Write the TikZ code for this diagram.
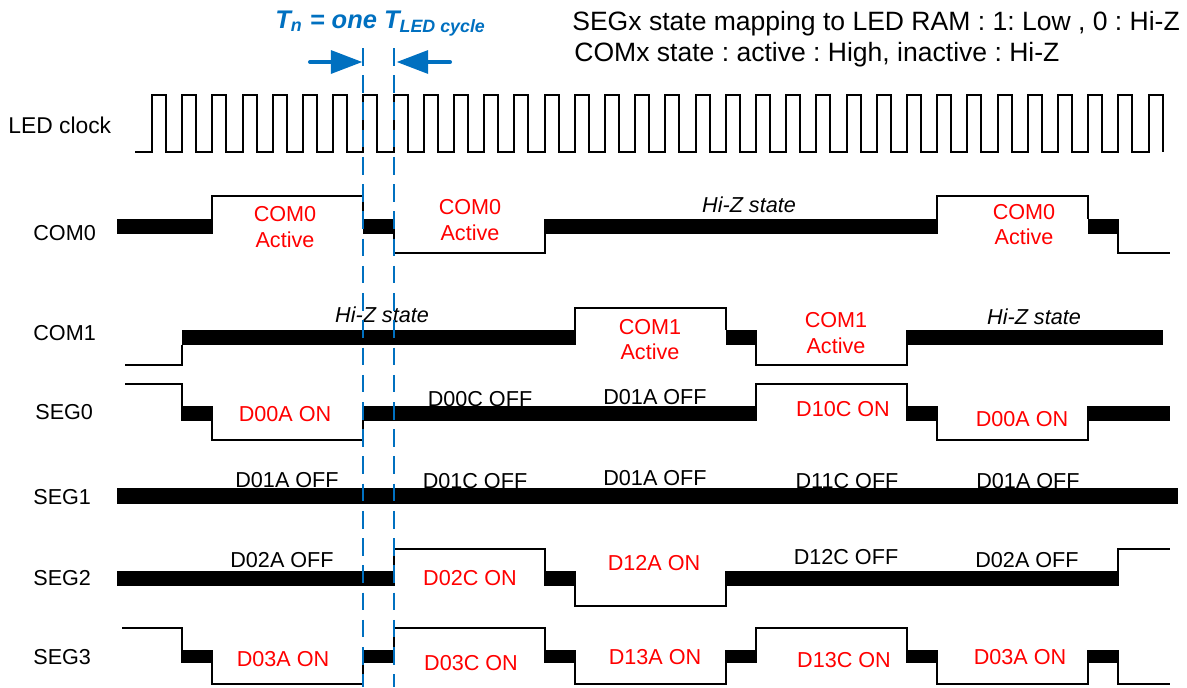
\documentclass[tikz,border=0pt]{standalone}
\usepackage{fontspec}
\setmainfont{Liberation Sans}
\usetikzlibrary{arrows.meta}
\frenchspacing

\definecolor{tnblue}{RGB}{0,112,192}

\begin{document}
\begin{tikzpicture}[
    x=0.02cm, y=-0.02cm,
    declare function={t(\k)=152+30.2*\k;},
    wave/.style={line width=1.1pt},
    hizbar/.style={fill=black},
    sig/.style={font=\fontsize{12.3}{14.7}\selectfont, inner sep=0pt},
    onlbl/.style={sig, text=red, align=center},
    offlbl/.style={sig},
    hizlbl/.style={sig, font=\fontsize{12.3}{14.7}\selectfont\itshape},
    rowlbl/.style={sig, anchor=west},
    tn_dash/.style={tnblue, line width=1.1pt, dash pattern=on 10pt off 5.5pt},
    tn_arrow/.style={tnblue, line width=2.3pt, line cap=round, -{Triangle[length=18pt, width=13pt]}}
]
\useasboundingbox (0,0) rectangle (1187,687);

% Macro for a Hi-Z bar in the current row
\newcommand{\zbar}[2]{\fill[hizbar] ({#1},\yBt) rectangle ({#2},\yBb);}

% ==========================================
% Header
\node[anchor=base west, inner sep=0pt, text=tnblue, font=\fontsize{14.5}{17}\selectfont\bfseries\itshape] (tn) at (275,28) {T\textsubscript{n} = one T\textsubscript{LED cycle}};
\node[anchor=base west, inner sep=0pt, font=\fontsize{15.1}{18}\selectfont] (segmap) at (572,30) {SEGx state mapping to LED RAM : 1: Low , 0 : Hi-Z};
\node[anchor=base west, inner sep=0pt, font=\fontsize{15.1}{18}\selectfont] (comstate) at (574,61) {COMx state : active : High, inactive : Hi-Z};

% Row names
\node[rowlbl, font=\fontsize{13}{15}\selectfont] (clk) at (8,125) {LED clock};
\node[rowlbl] (com0) at (33,233) {COM0};
\node[rowlbl] (com1) at (33,333) {COM1};
\node[rowlbl] (seg0) at (35,412) {SEG0};
\node[rowlbl] (seg1) at (33,497) {SEG1};
\node[rowlbl] (seg2) at (33,578) {SEG2};
\node[rowlbl] (seg3) at (33,657) {SEG3};

% ==========================================
% LED clock
\draw[wave] (135,152) \foreach \k in {0,...,33} { -- ({t(\k)},152) -- ++(0,-57) -- ++(14,0) -- ++(0,57) };

% ==========================================
% COM0
\def\yHi{196}\def\yBt{219}\def\yBb{234}\def\yLo{253}
\zbar{117}{t(2)}
\draw[wave] ({t(2)},\yBb) |- ({t(7)},\yHi) -- ({t(7)},\yBt);
\zbar{t(7)}{t(8)}
\draw[wave] ({t(8)},\yBt) |- ({t(13)},\yLo) -- ({t(13)},\yBt);
\zbar{t(13)}{t(26)}
\draw[wave] ({t(26)},\yBb) |- ({t(31)},\yHi) -- ({t(31)},\yBt);
\zbar{t(31)}{t(32)}
\draw[wave] ({t(32)},\yBt) |- (1170,\yLo);
\node[onlbl] (com0a) at (285,227) {COM0\\Active};
\node[onlbl] (com0b) at (470,220) {COM0\\Active};
\node[hizlbl] (com0z) at (749,205) {Hi-Z state};
\node[onlbl] (com0c) at (1024,224.5) {COM0\\Active};

% ==========================================
% COM1
\def\yHi{308}\def\yBt{330}\def\yBb{345}\def\yLo{365}
\draw[wave] (125,\yLo) -| ({t(1)},\yBb);
\zbar{t(1)}{t(14)}
\draw[wave] ({t(14)},\yBb) |- ({t(19)},\yHi) -- ({t(19)},\yBt);
\zbar{t(19)}{t(20)}
\draw[wave] ({t(20)},\yBt) |- ({t(25)},\yLo) -- ({t(25)},\yBt);
\zbar{t(25)}{1163}
\node[hizlbl] (com1z) at (382,315) {Hi-Z state};
\node[onlbl] (com1a) at (650,339.5) {COM1\\Active};
\node[onlbl] (com1b) at (836,333) {COM1\\Active};
\node[hizlbl] (com1y) at (1034,317) {Hi-Z state};

% ==========================================
% SEG0
\def\yHi{384}\def\yBt{406}\def\yBb{421}\def\yLo{440}
\draw[wave] (125,\yHi) -| ({t(1)},\yBb);
\zbar{t(1)}{t(2)}
\draw[wave] ({t(2)},\yBt) |- ({t(7)},\yLo) -- ({t(7)},\yBt);
\zbar{t(7)}{t(20)}
\draw[wave] ({t(20)},\yBb) |- ({t(25)},\yHi) -- ({t(25)},\yBb);
\zbar{t(25)}{t(26)}
\draw[wave] ({t(26)},\yBt) |- ({t(31)},\yLo) -- ({t(31)},\yBt);
\zbar{t(31)}{1170}
\node[onlbl] (s0a) at (285,414) {D00A ON};
\node[offlbl] (s0b) at (480,399) {D00C OFF};
\node[offlbl] (s0c) at (655,397) {D01A OFF};
\node[onlbl] (s0d) at (843,409) {D10C ON};
\node[onlbl] (s0e) at (1022,419) {D00A ON};

% ==========================================
% SEG1
\def\yBt{488}\def\yBb{504}
\zbar{117}{1178}
\node[offlbl] (s1a) at (287,480) {D01A OFF};
\node[offlbl] (s1b) at (475,481) {D01C OFF};
\node[offlbl] (s1c) at (655,478) {D01A OFF};
\node[offlbl] (s1d) at (847,481) {D11C OFF};
\node[offlbl] (s1e) at (1028,481) {D01A OFF};

% ==========================================
% SEG2
\def\yHi{549}\def\yBt{571}\def\yBb{586}\def\yLo{606}
\zbar{117}{t(8)}
\draw[wave] ({t(8)},\yBb) |- ({t(13)},\yHi) -- ({t(13)},\yBb);
\zbar{t(13)}{t(14)}
\draw[wave] ({t(14)},\yBt) |- ({t(19)},\yLo) -- ({t(19)},\yBt);
\zbar{t(19)}{t(32)}
\draw[wave] ({t(32)},\yBb) |- (1170,\yHi);
\node[offlbl] (s2a) at (282,560) {D02A OFF};
\node[onlbl] (s2b) at (470,578) {D02C ON};
\node[onlbl] (s2c) at (654,563) {D12A ON};
\node[offlbl] (s2d) at (846,557) {D12C OFF};
\node[offlbl] (s2e) at (1027,560) {D02A OFF};

% ==========================================
% SEG3
\def\yHi{628}\def\yBt{650}\def\yBb{663}\def\yLo{684}
\draw[wave] (122,\yHi) -| ({t(1)},\yBb);
\zbar{t(1)}{t(2)}
\draw[wave] ({t(2)},\yBt) |- ({t(7)},\yLo) -- ({t(7)},\yBt);
\zbar{t(7)}{t(8)}
\draw[wave] ({t(8)},\yBb) |- ({t(13)},\yHi) -- ({t(13)},\yBb);
\zbar{t(13)}{t(14)}
\draw[wave] ({t(14)},\yBt) |- ({t(19)},\yLo) -- ({t(19)},\yBt);
\zbar{t(19)}{t(20)}
\draw[wave] ({t(20)},\yBb) |- ({t(25)},\yHi) -- ({t(25)},\yBb);
\zbar{t(25)}{t(26)}
\draw[wave] ({t(26)},\yBt) |- ({t(31)},\yLo) -- ({t(31)},\yBt);
\zbar{t(31)}{t(32)}
\draw[wave] ({t(32)},\yBt) |- (1170,\yLo);
\node[onlbl] (s3a) at (283,659) {D03A ON};
\node[onlbl] (s3b) at (471,663) {D03C ON};
\node[onlbl] (s3c) at (655,657) {D13A ON};
\node[onlbl] (s3d) at (844,660) {D13C ON};
\node[onlbl] (s3e) at (1020,657) {D03A ON};

% ==========================================
% One LED cycle marker (drawn last, over the bars)
\coordinate (cycA) at ({t(7)},48);
\coordinate (cycAe) at ({t(7)},687);
\coordinate (cycB) at ({t(8)},48);
\coordinate (cycBe) at ({t(8)},687);
\draw[tn_dash] (cycA) -- (cycAe);
\draw[tn_dash] (cycB) -- (cycBe);
\coordinate (arwL) at (310,62);
\coordinate (arwLt) at ({t(7)-1},62);
\coordinate (arwR) at (450,62);
\coordinate (arwRt) at ({t(8)+3},62);
\draw[tn_arrow] (arwL) -- (arwLt);
\draw[tn_arrow] (arwR) -- (arwRt);

\end{tikzpicture}
\end{document}
